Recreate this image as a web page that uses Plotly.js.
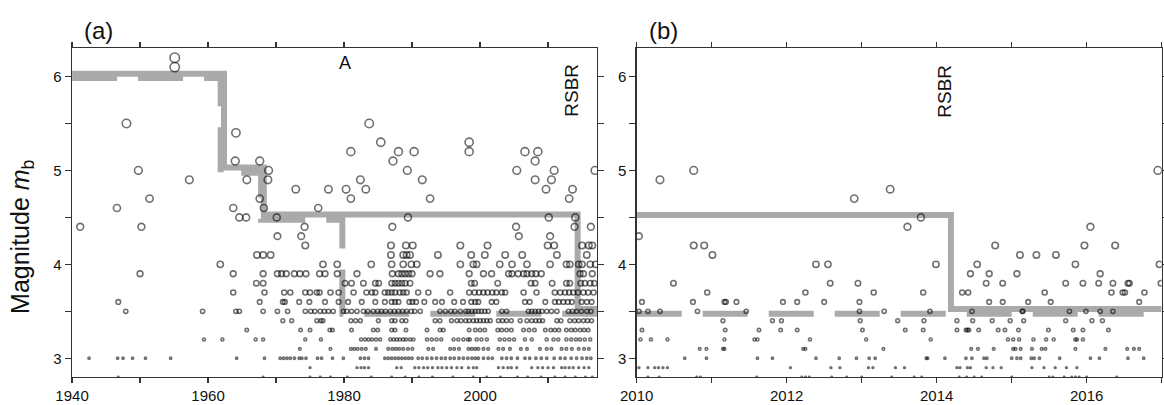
<!DOCTYPE html>
<html><head><meta charset="utf-8">
<script src="https://cdn.plot.ly/plotly-3.0.1.min.js"></script>
<style>html,body{margin:0;padding:0;background:#fff}#chart{width:1164px;height:405px}</style>
</head><body><div id="chart"></div>
<script>
// ---------- Panel (a): event years at each magnitude level ----------
const a62 = [1955.1];
const a61 = [1955.1];
const a55 = [1948.0, 1983.7];
const a54 = [1964.1];
const a53 = [1985.4, 1998.4];
const a52 = [1981.0, 1988.0, 1990.3, 1998.4, 2006.6, 2008.5];
const a51 = [1964.0, 1967.6, 1987.2, 2008.1];
const a50 = [1949.75, 1968.9, 1989.3, 2005.4, 2010.9, 2016.9];
const a49 = [1957.25, 1965.7, 1968.8, 1982.4, 1991.5, 2008.1, 2010.5];
const a48 = [1972.9, 1977.7, 1980.3, 1983.2, 2009.7, 2013.6];
const a47 = [1951.4, 1967.6, 1981.0, 1992.65, 2013.1];
const a46 = [1946.6, 1963.7, 1968.2, 1976.2];
const a45 = [1964.6, 1965.6, 1970.1, 1989.4, 2010.1, 2014.0];
const a44 = [1941.2, 1950.2, 1974.2, 1987.1, 2005.3, 2013.9, 2016.3];
const a43 = [1970.2, 1973.7, 2005.7, 2010.3];
const a42 = [1974.3, 1986.9, 1989.1, 1990.1, 1997.1, 2001.1, 2009.95, 2010.9, 2015.0, 2016.0, 2016.5];
const a41 = [1967.2, 1968.1, 1969.2, 1986.9, 1988.7, 1989.2, 1989.7, 1993.8, 1998.7, 2000.7, 2003.7, 2006.2, 2011.3, 2015.7];
const a40 = [1961.8, 1976.9, 1979.0, 1984.0, 1987.0, 1988.7, 1989.9, 1990.7, 1997.1, 1999.0, 1999.5, 2002.9, 2004.7, 2006.9, 2010.3, 2012.7, 2013.2, 2014.5, 2015.0, 2016.2, 2017.0];
const a39 = [1950.0, 1963.7, 1968.1, 1970.2, 1970.8, 1971.5, 1972.7, 1973.5, 1974.4, 1976.4, 1977.2, 1979.0, 1981.9, 1987.1, 1988.0, 1988.5, 1989.0, 1989.5, 1990.0, 1992.65, 1994.1, 1998.4, 2000.5, 2001.7, 2004.2, 2004.7, 2005.6, 2006.4, 2006.9, 2007.6, 2008.2, 2009.0, 2014.7, 2015.2, 2016.5];
const a38 = [1967.1, 1968.1, 1980.15, 1981.1, 1982.85, 1984.6, 1985.1, 1987.0, 1987.5, 1988.0, 1988.5, 1989.0, 1989.7, 1998.7, 1999.2, 2002.6, 2007.5, 2008.1, 2010.6, 2012.7, 2013.2, 2014.8, 2015.4, 2016.2, 2016.8];
const a37 = [1963.7, 1968.3, 1971.2, 1972.1, 1974.3, 1975.0, 1976.0, 1976.4, 1978.0, 1979.2, 1981.4, 1983.3, 1984.1, 1984.6, 1986.0, 1986.5, 1987.0, 1987.5, 1988.2, 1988.7, 1989.2, 1990.9, 1992.4, 1995.6, 1998.4, 1999.2, 1999.85, 2000.5, 2001.1, 2001.8, 2002.4, 2003.2, 2003.7, 2006.4, 2008.3, 2011.0, 2011.8, 2012.5, 2013.1, 2013.7, 2014.4, 2015.2, 2015.9, 2016.7];
const a36 = [1946.8, 1967.6, 1971.0, 1971.3, 1973.4, 1974.9, 1977.2, 1979.2, 1980.6, 1982.6, 1984.6, 1986.0, 1987.0, 1987.5, 1988.0, 1989.6, 1990.05, 1990.6, 1991.8, 1993.4, 1994.4, 1996.2, 1997.5, 1998.7, 1999.3, 1999.75, 2001.7, 2002.4, 2006.6, 2007.3, 2009.6, 2011.0, 2011.6, 2012.25, 2012.9, 2013.5, 2014.95, 2015.7, 2016.4];
const a35 = [1947.9, 1959.2, 1964.1, 1964.6, 1968.1, 1970.2, 1971.7, 1974.3, 1975.1, 1975.7, 1976.5, 1977.1, 1977.7, 1978.4, 1979.9, 1980.4, 1981.1, 1981.9, 1982.85, 1983.5, 1984.3, 1984.95, 1985.5, 1986.1, 1986.8, 1987.4, 1988.0, 1988.6, 1989.2, 1989.9, 1990.4, 1991.2, 1994.1, 1994.9, 1995.7, 1996.3, 1997.1, 1997.9, 1998.3, 1998.8, 1999.3, 1999.75, 2000.2, 2000.7, 2001.2, 2003.2, 2003.9, 2007.1, 2007.6, 2008.1, 2008.6, 2009.1, 2009.8, 2010.5, 2011.3, 2013.0, 2013.6, 2014.2, 2014.9, 2015.7, 2016.3];
const a34 = [1971.0, 1972.3, 1976.0, 1976.6, 1976.9, 1981.0, 1981.7, 1982.4, 1985.05, 1987.0, 1987.5, 1988.5, 1989.1, 1993.4, 1994.1, 1995.8, 1996.6, 1997.2, 1997.9, 1998.4, 1999.0, 1999.5, 2000.0, 2000.5, 2001.0, 2001.5, 2002.7, 2003.3, 2003.9, 2004.6, 2005.9, 2006.9, 2007.6, 2008.2, 2008.7, 2009.2, 2011.3, 2011.9, 2013.2, 2013.9, 2014.5, 2015.2, 2015.8, 2016.4];
const a33 = [1965.7, 1973.6, 1975.0, 1977.9, 1978.3, 1981.1, 1984.3, 1984.95, 1987.0, 1987.5, 1989.1, 1992.2, 1994.1, 1994.6, 1998.4, 1999.3, 2000.0, 2000.7, 2002.6, 2003.2, 2003.9, 2004.6, 2006.4, 2007.2, 2008.0, 2009.6, 2010.4, 2011.0, 2011.6, 2012.7, 2013.4, 2014.0, 2014.7, 2015.3, 2015.9];
const a32 = [1959.4, 1962.1, 1967.0, 1968.1, 1974.3, 1976.6, 1982.5, 1983.1, 1983.6, 1984.1, 1984.7, 1985.3, 1986.8, 1987.3, 1987.75, 1988.2, 1988.7, 1989.1, 1989.7, 1990.2, 1992.2, 1992.9, 1993.6, 1994.3, 1996.1, 1996.8, 1997.55, 1998.2, 1998.5, 1999.5, 2000.2, 2001.0, 2002.9, 2003.6, 2004.3, 2005.0, 2006.6, 2007.6, 2009.8, 2010.8, 2011.5, 2012.7, 2013.4, 2014.1, 2014.7, 2015.4, 2016.2];
const a31 = [1973.5, 1978.0, 1981.0, 1981.5, 1982.0, 1982.6, 1983.2, 1984.7, 1986.5, 1987.1, 1987.6, 1988.1, 1988.7, 1989.4, 1990.05, 1992.4, 1993.1, 1995.6, 1996.2, 1996.9, 1998.3, 1998.8, 1999.3, 1999.75, 2000.5, 2001.2, 2002.7, 2003.4, 2004.4, 2006.0, 2006.9, 2008.8, 2009.8, 2010.5, 2012.0, 2012.7, 2013.5, 2014.5, 2015.3, 2016.0];
const a30 = [1942.5, 1946.7, 1947.5, 1948.9, 1950.8, 1954.5, 1964.2, 1968.3, 1970.6, 1971.1, 1971.6, 1972.1, 1972.7, 1973.4, 1973.8, 1974.4, 1976.1, 1976.7, 1978.3, 1979.9, 1982.4, 1983.0, 1983.6, 1986.0, 1986.5, 1987.0, 1987.5, 1988.0, 1988.5, 1989.0, 1989.5, 1990.0, 1990.9, 1991.5, 1992.2, 1992.9, 1993.6, 1994.3, 1994.9, 1995.6, 1996.2, 1996.9, 1997.55, 1998.2, 1998.8, 1999.3, 1999.75, 2000.5, 2001.2, 2001.8, 2003.2, 2003.9, 2004.6, 2005.5, 2006.6, 2007.3, 2008.2, 2009.0, 2009.8, 2010.9, 2011.8, 2012.5, 2013.4, 2014.2, 2015.0, 2015.7, 2016.3];
const a29 = [1975.0, 1981.9, 1982.5, 1983.0, 1983.6, 1987.75, 1988.4, 1990.4, 1991.0, 1991.7, 1992.3, 1993.0, 1993.8, 1994.4, 1995.1, 1995.8, 1996.6, 1997.3, 1998.3, 1999.0, 1999.5, 2002.7, 2003.4, 2004.1, 2004.6, 2005.4, 2007.6, 2008.5, 2009.2, 2010.0, 2010.8, 2012.0, 2012.5, 2013.1, 2013.7, 2014.5, 2015.3, 2016.0];
const a28 = [1946.8, 1968.1, 1975.0, 1976.5, 1978.0, 1980.5, 1984.0, 1987.0, 1989.0, 1991.0, 1993.0, 1996.0, 1999.0, 2001.0, 2003.0, 2005.5, 2007.0, 2009.0, 2011.0, 2012.5, 2014.0, 2015.5, 2016.5];

// ---------- Panel (b): event years at each magnitude level ----------
const b50 = [2010.76, 2016.95];
const b49 = [2010.31];
const b48 = [2013.38];
const b47 = [2012.9];
const b45 = [2013.79];
const b44 = [2013.61, 2016.05];
const b43 = [2010.03];
const b42 = [2010.76, 2010.9, 2014.78, 2015.97, 2016.38];
const b41 = [2011.01, 2015.11, 2015.33, 2015.59];
const b40 = [2012.39, 2012.55, 2013.99, 2014.54, 2015.85, 2016.97];
const b39 = [2014.45, 2014.7, 2015.07, 2016.18];
const b38 = [2010.49, 2012.58, 2012.95, 2014.66, 2014.88, 2015.72, 2015.95, 2016.16, 2016.35, 2016.55, 2016.57, 2016.99];
const b37 = [2010.94, 2012.25, 2013.16, 2013.82, 2014.34, 2014.42, 2015.44, 2016.33, 2016.48, 2016.51, 2016.77];
const b36 = [2010.07, 2010.75, 2011.17, 2011.19, 2011.33, 2011.95, 2012.14, 2012.5, 2012.97, 2014.7, 2014.88, 2015.22, 2015.52, 2016.7];
const b35 = [2010.03, 2010.15, 2010.31, 2010.81, 2011.46, 2012.97, 2013.3, 2013.91, 2014.47, 2015.14, 2015.15, 2015.77, 2015.99, 2016.18, 2016.35];
const b34 = [2011.15, 2011.81, 2011.93, 2012.98, 2013.48, 2013.83, 2014.27, 2014.48, 2014.74, 2014.98, 2015.16, 2015.72, 2016.07, 2016.21];
const b33 = [2010.07, 2011.18, 2011.63, 2011.92, 2012.14, 2013.01, 2013.58, 2013.82, 2014.27, 2014.39, 2014.41, 2014.43, 2014.56, 2014.82, 2014.91, 2015.09, 2015.49, 2015.82, 2015.95, 2016.29];
const b32 = [2010.05, 2010.19, 2010.41, 2011.17, 2011.57, 2011.61, 2012.31, 2013.06, 2013.92, 2014.95, 2015.02, 2015.1, 2015.29, 2015.46, 2015.56, 2015.85, 2015.87, 2015.95];
const b31 = [2010.84, 2010.93, 2011.15, 2011.17, 2012.22, 2012.25, 2013.29, 2014.46, 2014.55, 2014.76, 2015.02, 2015.05, 2015.12, 2015.27, 2015.4, 2015.45, 2015.85, 2016.25, 2016.54, 2016.63, 2016.7];
const b30 = [2010.64, 2010.93, 2011.61, 2011.81, 2012.39, 2012.7, 2012.93, 2013.1, 2013.18, 2013.86, 2013.88, 2014.11, 2014.39, 2014.47, 2014.63, 2014.67, 2015.0, 2015.07, 2015.12, 2015.26, 2015.3, 2015.37, 2015.64, 2016.05, 2016.17, 2016.55, 2016.76];
const b29 = [2010.03, 2010.15, 2010.24, 2010.29, 2010.35, 2010.41, 2012.05, 2012.59, 2012.71, 2013.09, 2013.15, 2013.45, 2013.57, 2014.27, 2014.31, 2014.41, 2014.45, 2014.66, 2014.75, 2014.86, 2015.27, 2015.43, 2015.58, 2015.73, 2015.87];
const b28 = [2010.15, 2010.3, 2010.8, 2010.85, 2011.6, 2012.2, 2012.25, 2012.3, 2012.6, 2012.8, 2013.0, 2013.4, 2013.7, 2013.8, 2014.3, 2014.4, 2014.5, 2014.6, 2015.0, 2015.5, 2015.55, 2015.7, 2015.8, 2015.85, 2015.9, 2016.0, 2016.4];

const levelsA = [6.2, 6.1, 5.5, 5.4, 5.3, 5.2, 5.1, 5.0, 4.9, 4.8, 4.7, 4.6, 4.5, 4.4, 4.3, 4.2, 4.1, 4.0, 3.9, 3.8, 3.7, 3.6, 3.5, 3.4, 3.3, 3.2, 3.1, 3.0, 2.9, 2.8];
const rowsA = [a62, a61, a55, a54, a53, a52, a51, a50, a49, a48, a47, a46, a45, a44, a43, a42, a41, a40, a39, a38, a37, a36, a35, a34, a33, a32, a31, a30, a29, a28];
const levelsB = [5.0, 4.9, 4.8, 4.7, 4.5, 4.4, 4.3, 4.2, 4.1, 4.0, 3.9, 3.8, 3.7, 3.6, 3.5, 3.4, 3.3, 3.2, 3.1, 3.0, 2.9, 2.8];
const rowsB = [b50, b49, b48, b47, b45, b44, b43, b42, b41, b40, b39, b38, b37, b36, b35, b34, b33, b32, b31, b30, b29, b28];

// ---------- Completeness magnitude step models ----------
const mcSolidA_x = [1940, 1962.35, 1962.35, 1968.2, 1968.2, 2014.35, 2014.35, 2017.2];
const mcSolidA_y = [6.03, 6.03, 5.03, 5.03, 4.53, 4.53, 3.525, 3.525];
const mcDashA_x = [1940, 1961.85, 1961.85, 1967.8, 1967.8, 1979.75, 1979.75, 2017.2];
const mcDashA_y = [5.985, 5.985, 4.975, 4.975, 4.475, 4.475, 3.475, 3.475];
const mcSolidB_x = [2010, 2014.19, 2014.19, 2017];
const mcSolidB_y = [4.525, 4.525, 3.525, 3.525];
const mcDashB_x = [2010, 2017];
const mcDashB_y = [3.475, 3.475];

// ---------- Ticks ----------
const xMajorA = [1940, 1960, 1980, 2000];
const xMinorA = [1950, 1970, 1990, 2010];
const xMajorB = [2010, 2012, 2014, 2016];
const xMinorB = [2011, 2013, 2015, 2017];
const yMajor = [3, 4, 5, 6];
const yMinor = [3.5, 4.5, 5.5];

function collect(levels, rows) {
  const x = [], y = [];
  levels.forEach((m, i) => rows[i].forEach(t => { x.push(t); y.push(m); }));
  return {x, y};
}
function markerSize(m) {
  return m <= 4 ? Math.max(1.2, 2.2 + 4 * (m - 3)) : 6.2 + 1.5 * (m - 4);
}

const A = collect(levelsA, rowsA);
const B = collect(levelsB, rowsB);
const GREY = '#aaaaaa';
const mk = (pts, xa, ya) => ({
  type: 'scatter', mode: 'markers', x: pts.x, y: pts.y, xaxis: xa, yaxis: ya,
  marker: {symbol: 'circle-open', size: pts.y.map(markerSize),
           color: 'rgba(0,0,0,0.8)', line: {width: 1.6, color: 'rgba(0,0,0,0.8)'}},
  hoverinfo: 'x+y'
});
const ln = (x, y, xa, ya, dash) => ({
  type: 'scatter', mode: 'lines', x, y, xaxis: xa, yaxis: ya,
  line: {color: GREY, width: 6, dash: dash || 'solid', shape: 'linear'}, hoverinfo: 'skip'
});

const data = [
  ln(mcDashA_x, mcDashA_y, 'x', 'y', '45px,21px'),
  ln(mcSolidA_x, mcSolidA_y, 'x', 'y'),
  ln(mcDashB_x, mcDashB_y, 'x2', 'y2', '45px,21px'),
  ln(mcSolidB_x, mcSolidB_y, 'x2', 'y2'),
  mk(A, 'x', 'y'),
  mk(B, 'x2', 'y2')
];

const FONT = 'Liberation Sans, Arial, Helvetica, sans-serif';
const axisStyle = {
  showline: true, linecolor: '#333', linewidth: 1.4, mirror: 'ticks',
  ticks: 'outside', ticklen: 6, tickwidth: 1.3, tickcolor: '#333',
  showgrid: false, zeroline: false, tickfont: {family: FONT, size: 15, color: '#111'},
  tickmode: 'array'
};
const minorStyle = (vals, len) => ({tickmode: 'array', tickvals: vals, ticks: 'outside', ticklen: len,
  tickwidth: 1.3, tickcolor: '#333', showgrid: false});
const yDom = [0.069, 0.8807];

const layout = {
  width: 1164, height: 405, showlegend: false,
  margin: {l: 0, r: 0, t: 0, b: 0},
  paper_bgcolor: '#fff', plot_bgcolor: '#fff',
  font: {family: FONT, color: '#111'},
  xaxis: Object.assign({}, axisStyle, {domain: [0.0619, 0.5129], range: [1940, 2017.2], anchor: 'y',
          ticklen: 5, tickvals: xMajorA, ticktext: xMajorA.map(String), minor: minorStyle(xMinorA, 5)}),
  yaxis: Object.assign({}, axisStyle, {domain: yDom, range: [2.8, 6.3], anchor: 'x',
          tickvals: yMajor, ticktext: yMajor.map(String), minor: minorStyle(yMinor, 6)}),
  xaxis2: Object.assign({}, axisStyle, {domain: [0.547, 0.998], range: [2010, 2017], anchor: 'y2',
          ticklen: 5, tickvals: xMajorB, ticktext: xMajorB.map(String), minor: minorStyle(xMinorB, 5)}),
  yaxis2: Object.assign({}, axisStyle, {domain: yDom, range: [2.8, 6.3], anchor: 'x2',
          tickvals: yMajor, ticktext: yMajor.map(String), minor: minorStyle(yMinor, 6)}),
  annotations: [
    {text: 'Magnitude <i>m</i><sub>b</sub>', textangle: -90, xref: 'paper', yref: 'paper',
     x: 22 / 1164, y: 0.415, xanchor: 'center', yanchor: 'middle', showarrow: false,
     font: {family: FONT, size: 25, color: '#111'}},
    {text: '(a)', xref: 'paper', yref: 'paper', x: 98 / 1164, y: 1 - 30 / 405,
     xanchor: 'center', yanchor: 'middle', showarrow: false, font: {family: FONT, size: 24, color: '#111'}},
    {text: '(b)', xref: 'paper', yref: 'paper', x: 663 / 1164, y: 1 - 30 / 405,
     xanchor: 'center', yanchor: 'middle', showarrow: false, font: {family: FONT, size: 24, color: '#111'}},
    {text: 'A', xref: 'x', yref: 'y', x: 1980.1, y: 6.14, xanchor: 'center', yanchor: 'middle',
     showarrow: false, font: {family: FONT, size: 18, color: '#111'}},
    {text: 'RSBR', textangle: -90, xref: 'x', yref: 'y', x: 2013.4, y: 5.85, xanchor: 'center', yanchor: 'middle',
     showarrow: false, font: {family: FONT, size: 19, color: '#111'}},
    {text: 'RSBR', textangle: -90, xref: 'x2', yref: 'y2', x: 2014.1, y: 5.84, xanchor: 'center', yanchor: 'middle',
     showarrow: false, font: {family: FONT, size: 19, color: '#111'}}
  ]
};

Plotly.newPlot('chart', data, layout, {displayModeBar: false, staticPlot: true});
</script>
</body></html>
